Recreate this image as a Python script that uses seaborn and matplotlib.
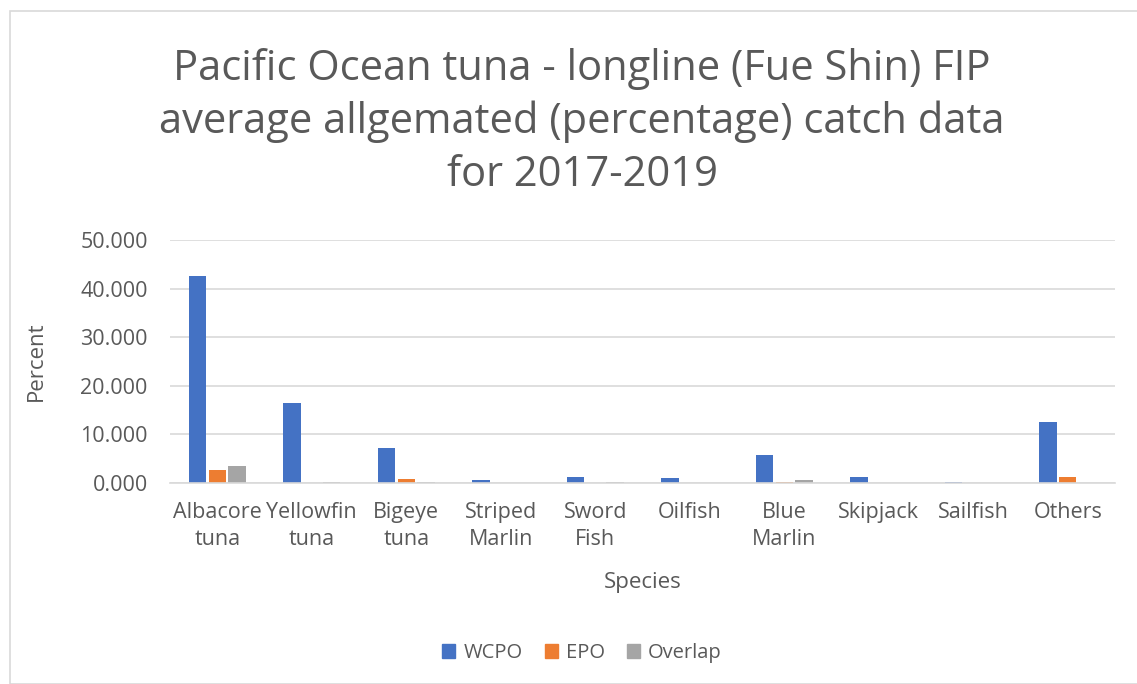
import pandas as pd
import numpy as np
import matplotlib.pyplot as plt
import seaborn as sns
from matplotlib.patches import Rectangle

# === Data ===
species = ['Albacore\ntuna', 'Yellowfin\ntuna', 'Bigeye\ntuna', 'Striped\nMarlin', 'Sword\nFish',
           'Oilfish', 'Blue\nMarlin', 'Skipjack', 'Sailfish', 'Others']
wcpo = [42.6, 16.5, 7.1, 0.6, 1.3, 1.0, 5.7, 1.2, 0.2, 12.5]
epo = [2.7, 0.0, 0.8, 0.0, 0.0, 0.0, 0.2, 0.0, 0.0, 1.2]
overlap = [3.6, 0.2, 0.2, 0.0, 0.2, 0.0, 0.6, 0.0, 0.0, 0.0]
regions = ['WCPO', 'EPO', 'Overlap']
colors = ['#4472C4', '#ED7D31', '#A5A5A5']

df = pd.DataFrame({'Species': species * 3,
                   'Region': [r for r in regions for _ in species],
                   'Percent': wcpo + epo + overlap})

text_col = '#595959'
plt.rcParams['font.family'] = ['Open Sans', 'DejaVu Sans']

fig = plt.figure(figsize=(11.37, 6.84), dpi=100)
ax = fig.add_axes([170 / 1137, 1 - 483 / 684, 945 / 1137, 243 / 684])

sns.barplot(data=df, x='Species', y='Percent', hue='Region', palette=colors,
            saturation=1, width=0.63, gap=0.12, ax=ax, legend=False)

ax.set_ylim(0, 50)
ax.set_yticks(np.arange(0, 51, 10))
ax.set_yticklabels([f'{v:.3f}' for v in np.arange(0, 51, 10)])
ax.yaxis.grid(True, color='#D9D9D9', linewidth=1.2)
ax.set_axisbelow(True)
for s in ['top', 'right', 'left']:
    ax.spines[s].set_visible(False)
ax.spines['bottom'].set_color('#D9D9D9')
ax.spines['bottom'].set_linewidth(1.2)
ax.tick_params(length=0, labelsize=15.5, colors=text_col)
ax.tick_params(axis='y', pad=16)
ax.tick_params(axis='x', pad=14)
for lbl in ax.get_xticklabels():
    lbl.set_linespacing(1.35)
ax.set_xlabel('Species', fontsize=16, color=text_col, labelpad=16)
ax.set_ylabel('Percent', fontsize=16, color=text_col)
ax.yaxis.set_label_coords(-0.13, 0.5)

fig.text(0.512, 1 - 48 / 684,
         'Pacific Ocean tuna - longline (Fue Shin) FIP\naverage allgemated (percentage) catch data\nfor 2017-2019',
         ha='center', va='top', fontsize=30, color=text_col, linespacing=1.33)

handles = [Rectangle((0, 0), 1, 1, color=c) for c in colors]
fig.legend(handles, regions, loc='center', bbox_to_anchor=(0.512, 1 - 653 / 684), ncol=3,
           frameon=False, fontsize=14.5, labelcolor=text_col, handlelength=0.65, handleheight=0.65,
           columnspacing=1.1, handletextpad=0.4)

fig.patches.append(Rectangle((10 / 1137, 0), 1.2, 1 - 11 / 684, transform=fig.transFigure,
                             fill=False, edgecolor='#D9D9D9', linewidth=1.2))

plt.savefig('out.png', dpi=100)
